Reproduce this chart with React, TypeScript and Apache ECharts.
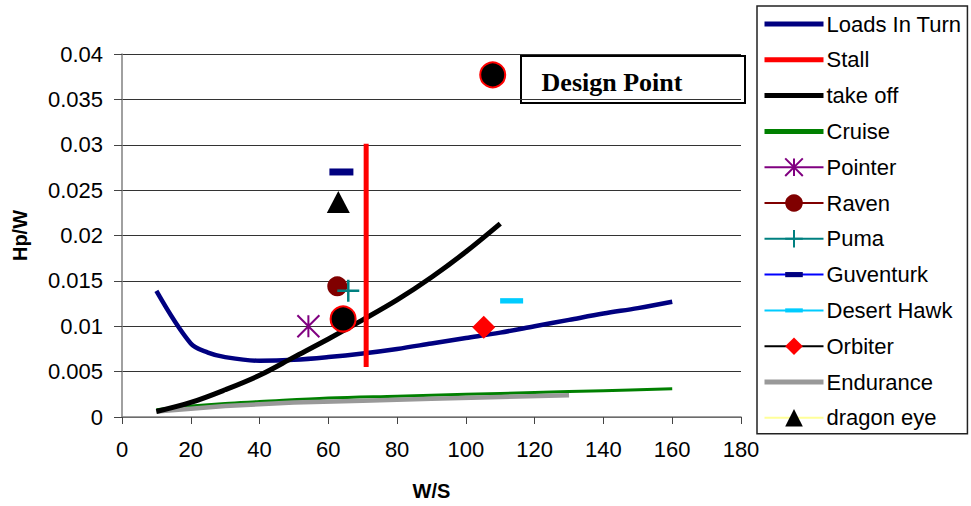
import React, { useEffect, useRef } from "react";
import * as echarts from "echarts";

// Constraint curves (W/S vs Hp/W)
const loadsX = [10, 20, 25, 30, 40, 50, 60, 70, 80, 90, 100, 110, 120, 130, 140, 150, 160];
const loadsY = [0.0139, 0.0081, 0.0071, 0.0066, 0.0062, 0.0063, 0.0066, 0.007, 0.0075, 0.0081, 0.0087, 0.0093, 0.01, 0.0107, 0.0114, 0.012, 0.0127];

const stallX = [71, 71];
const stallY = [0.0055, 0.0301];

const takeoffX = [10, 20, 30, 40, 50, 60, 70, 80, 90, 100, 110];
const takeoffY = [0.0006, 0.0016, 0.003, 0.0046, 0.0066, 0.0086, 0.0107, 0.0129, 0.0154, 0.0182, 0.0213];

const cruiseX = [10, 20, 30, 40, 60, 80, 100, 120, 140, 160];
const cruiseY = [0.0008, 0.0012, 0.0015, 0.0017, 0.0021, 0.0023, 0.0025, 0.0027, 0.0029, 0.0031];

const enduranceX = [10, 30, 50, 70, 90, 110, 130];
const enduranceY = [0.0006, 0.0012, 0.0016, 0.0018, 0.002, 0.0022, 0.0024];

// Existing aircraft [W/S, Hp/W]
const pointer = [54.2, 0.01];
const raven = [62.6, 0.0144];
const puma = [65.8, 0.0139];
const guventurk = [63.8, 0.027];
const desertHawk = [113.3, 0.0128];
const orbiter = [105.2, 0.0099];
const dragonEye = [62.9, 0.0237];
const designPoints = [
  [64.3, 0.0108],
  [107.8, 0.0377],
];

const xTicks = { min: 0, max: 180, interval: 20 };
const yTicks = { min: 0, max: 0.04, interval: 0.005 };

const FONT = "'Liberation Sans', Arial, sans-serif";

const zip = (xs: number[], ys: number[]) => xs.map((x, i) => [x, ys[i]]);

// Marker shapes; the dash paths carry invisible corner points so their box stays square
const ASTERISK = "path://M0,0L10,10M10,0L0,10M5,0L5,10";
const PLUS = "path://M5,0L5,10M0,5L10,5";
const DASH_THICK = "path://M0,0L0,0M0,8.5L24,8.5L24,15.5L0,15.5ZM24,24L24,24";
const DASH_THIN = "path://M0,0L0,0M0,9.2L24,9.2L24,14.8L0,14.8ZM24,24L24,24";

function buildOption() {
  const curve = (name: string, data: number[][], color: string, width: number, smooth = true, z = 2) => ({
    name,
    type: "line",
    data,
    smooth: smooth ? 0.35 : false,
    symbol: "none",
    lineStyle: { color, width, cap: "butt" },
    itemStyle: { color },
    z,
  });

  const marker = (
    name: string,
    point: number[],
    symbol: string,
    size: number | number[],
    itemStyle: any,
    lineColor: string
  ) => ({
    name,
    type: "line",
    data: [point],
    symbol,
    symbolSize: size,
    lineStyle: { color: lineColor, width: 2 },
    itemStyle,
    z: 5,
  });

  const curveLegend = (name: string, color: string, width: number) => ({
    name,
    lineStyle: { color, width },
    itemStyle: { opacity: 0 },
  });
  const markerLegend = (name: string, color: string) => ({
    name,
    lineStyle: { color, width: 2 },
  });

  return {
    animation: false,
    backgroundColor: "#fff",
    grid: { left: 122, top: 54, width: 619, height: 366, containLabel: false },
    legend: {
      orient: "vertical",
      left: 757,
      top: 6,
      padding: [7, 6, 5, 5],
      itemWidth: 59,
      itemHeight: 22,
      itemGap: 13.8,
      borderColor: "#222",
      borderWidth: 1.5,
      backgroundColor: "#fff",
      textStyle: { fontFamily: FONT, fontSize: 22, color: "#000", lineHeight: 22, padding: [0, 0, 0, -2] },
      data: [
        curveLegend("Loads In Turn", "#000080", 5),
        curveLegend("Stall", "#ff0000", 5),
        curveLegend("take off", "#000000", 5),
        curveLegend("Cruise", "#008000", 5),
        markerLegend("Pointer", "#800080"),
        markerLegend("Raven", "#800000"),
        markerLegend("Puma", "#008080"),
        markerLegend("Guventurk", "#0000ff"),
        markerLegend("Desert Hawk", "#00ccff"),
        markerLegend("Orbiter", "#000000"),
        curveLegend("Endurance", "#999999", 5),
        markerLegend("dragon eye", "#ffff99"),
      ],
    },
    xAxis: {
      type: "value",
      ...xTicks,
      name: "W/S",
      nameLocation: "middle",
      nameGap: 64,
      nameTextStyle: { fontFamily: FONT, fontSize: 20, fontWeight: "bold", color: "#000" },
      axisLine: { lineStyle: { color: "#808080", width: 1.5 } },
      axisTick: { inside: false, length: 7, lineStyle: { color: "#444" } },
      axisLabel: { fontFamily: FONT, fontSize: 22, color: "#000", margin: 21 },
      splitLine: { show: false },
    },
    yAxis: {
      type: "value",
      ...yTicks,
      name: "Hp/W",
      nameLocation: "middle",
      nameGap: 92,
      nameRotate: 90,
      nameTextStyle: { fontFamily: FONT, fontSize: 20, fontWeight: "bold", color: "#000" },
      axisLine: { show: true, lineStyle: { color: "#808080", width: 1.5 } },
      axisTick: { show: true, inside: false, length: 8, lineStyle: { color: "#444" } },
      axisLabel: { fontFamily: FONT, fontSize: 22, color: "#000", margin: 19 },
      splitLine: { show: true, lineStyle: { color: "#333", width: 1 } },
    },
    series: [
      curve("Loads In Turn", zip(loadsX, loadsY), "#000080", 4.5),
      curve("Stall", zip(stallX, stallY), "#ff0000", 5, false, 4),
      curve("take off", zip(takeoffX, takeoffY), "#000000", 5, true, 3),
      curve("Cruise", zip(cruiseX, cruiseY), "#008000", 3),
      marker("Pointer", pointer, ASTERISK, 22, { color: "transparent", borderColor: "#800080", borderWidth: 2 }, "#800080"),
      marker("Raven", raven, "circle", 20, { color: "#800000" }, "#800000"),
      marker("Puma", puma, PLUS, 22, { color: "transparent", borderColor: "#008080", borderWidth: 2.5 }, "#008080"),
      marker("Guventurk", guventurk, DASH_THICK, 24, { color: "#000080" }, "#0000ff"),
      marker("Desert Hawk", desertHawk, DASH_THIN, 23, { color: "#00ccff" }, "#00ccff"),
      marker("Orbiter", orbiter, "diamond", [23, 23], { color: "#ff0000" }, "#000000"),
      curve("Endurance", zip(enduranceX, enduranceY), "#999999", 4.5, false),
      marker("dragon eye", dragonEye, "triangle", [23, 22], { color: "#000000" }, "#ffff99"),
      {
        name: "Design Point",
        type: "scatter",
        data: designPoints,
        symbol: "circle",
        symbolSize: 25,
        itemStyle: { color: "#000", borderColor: "#ff0000", borderWidth: 2, opacity: 1 },
        z: 6,
      },
    ],
    graphic: [
      {
        type: "group",
        left: 520,
        top: 55,
        z: 10,
        children: [
          {
            type: "rect",
            shape: { x: 0, y: 0, width: 224, height: 47 },
            style: { fill: "#fff", stroke: "#000", lineWidth: 2 },
          },
          {
            type: "text",
            x: 91,
            y: 26,
            style: {
              text: "Design Point",
              font: "bold 26px 'Liberation Serif', 'Times New Roman', serif",
              fill: "#000",
              align: "center",
              verticalAlign: "middle",
            },
          },
        ],
      },
    ],
  };
}

export default function App() {
  const ref = useRef<HTMLDivElement>(null);

  useEffect(() => {
    if (!ref.current) return;
    const chart = echarts.init(ref.current, undefined, { renderer: "svg" });
    chart.setOption(buildOption() as any);
    return () => chart.dispose();
  }, []);

  return <div ref={ref} style={{ width: 971, height: 506, position: "absolute", left: 0, top: 0 }} />;
}
